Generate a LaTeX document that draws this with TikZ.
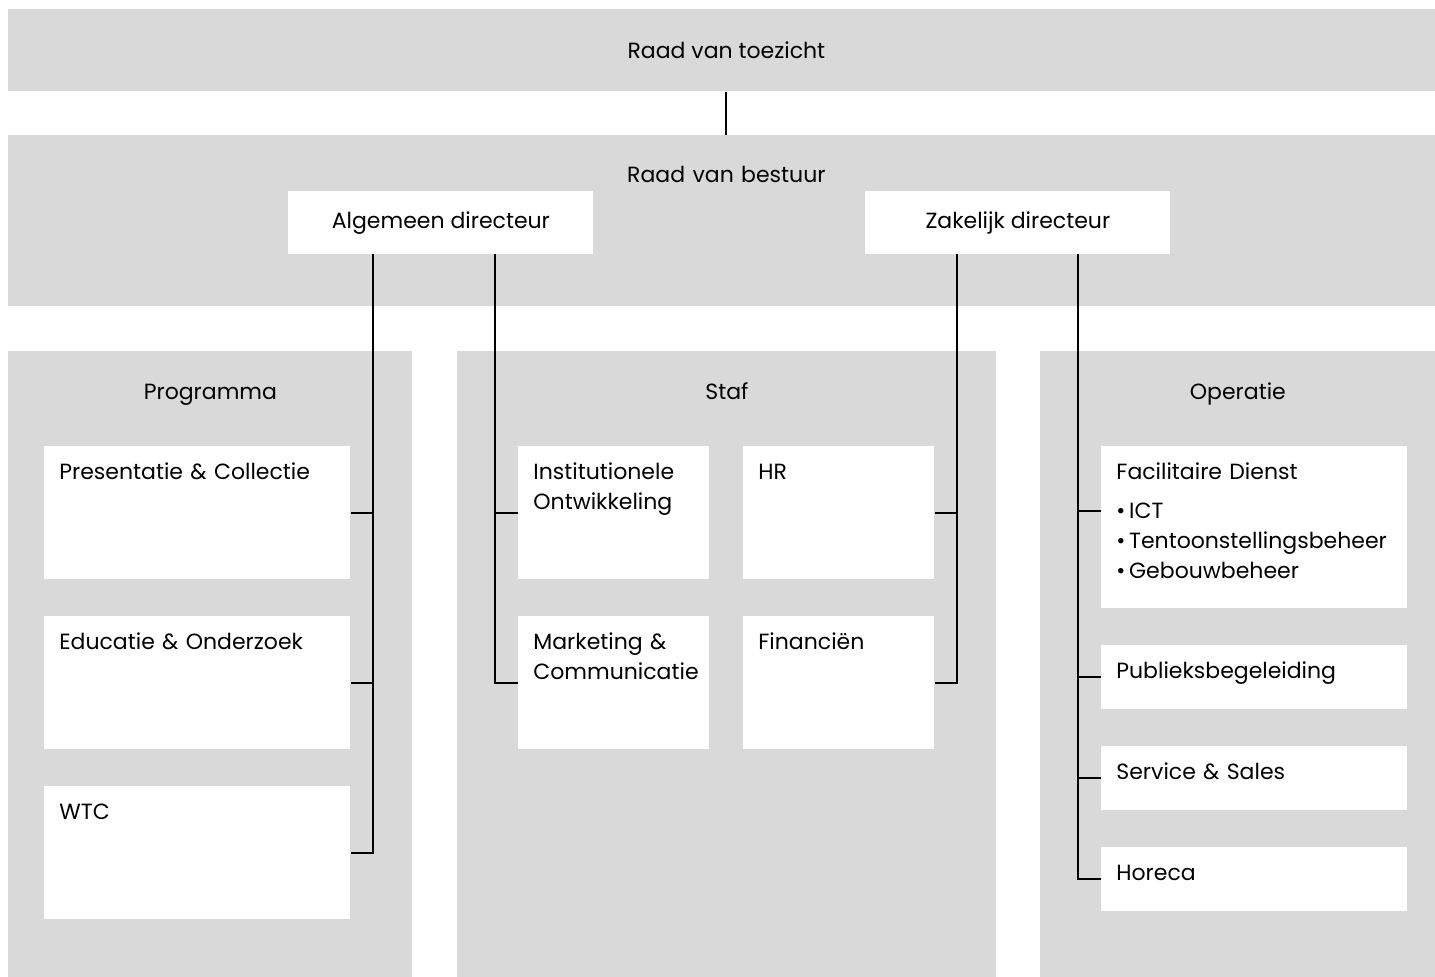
\documentclass[tikz,border=0pt]{standalone}
\usepackage{fontspec}
\setmainfont{Poppins}
\definecolor{bandgray}{HTML}{D9D9D9}
\tikzset{
    band/.style={fill=bandgray, inner sep=0pt, anchor=north west, align=center},
    unit/.style={fill=white, inner xsep=7.5pt, inner ysep=0pt, anchor=north west, align=left, text height=16.5pt},
    head/.style={fill=white, inner sep=0pt, anchor=north west, minimum width=152.5pt, minimum height=31.5pt},
    conn/.style={line width=1pt, black},
}
\begin{document}
\begin{tikzpicture}[x=0.5pt, y=-0.5pt, every node/.style={font=\fontsize{11}{15}\selectfont}]
    \useasboundingbox (0,0) rectangle (1435,977);

    % Draw the boards
    \node[band, minimum width=718pt, minimum height=41pt] (rvt) at (8,9) {Raad van toezicht};
    \node[band, text width=718pt, text height=23.5pt, text depth=62pt] (rvb) at (8,135) {Raad van bestuur};
    \node[head] (ad) at (288,191) {Algemeen directeur};
    \node[head] (zd) at (865,191) {Zakelijk directeur};

    % Draw the departments
    \node[band, text width=202pt, text height=24pt, text depth=289pt] (prog) at (8,351) {Programma};
    \node[band, text width=269.5pt, text height=24pt, text depth=289pt] (staf) at (457,351) {Staf};
    \node[band, text width=197.5pt, text height=24pt, text depth=289pt] (oper) at (1040,351) {Operatie};

    % Programma
    \node[unit, text width=138pt, text depth=50pt] (pc) at (44,446) {Presentatie \& Collectie};
    \node[unit, text width=138pt, text depth=50pt] (eo) at (44,616) {Educatie \& Onderzoek};
    \node[unit, text width=138pt, text depth=50pt] (wtc) at (44,786) {WTC};

    % Staf
    \node[unit, text width=80.5pt, text depth=50pt] (io) at (518,446) {Institutionele\\Ontwikkeling};
    \node[unit, text width=80.5pt, text depth=50pt] (mc) at (518,616) {Marketing \&\\Communicatie};
    \node[unit, text width=80.5pt, text depth=50pt] (hr) at (743,446) {HR};
    \node[unit, text width=80.5pt, text depth=50pt] (fin) at (743,616) {Financiën};

    % Operatie
    \node[unit, text width=138pt, text depth=64.5pt] (fd) at (1101,446) {Facilitaire Dienst\\[4.5pt]
        \textbullet\,ICT\\\textbullet\,Tentoonstellingsbeheer\\\textbullet\,Gebouwbeheer};
    \node[unit, text width=138pt, text depth=15.5pt] (pb) at (1101,645) {Publieksbegeleiding};
    \node[unit, text width=138pt, text depth=15.5pt] (ss) at (1101,746) {Service \& Sales};
    \node[unit, text width=138pt, text depth=15.5pt] (hor) at (1101,847) {Horeca};

    % Lines
    \draw[conn] (rvt) -- (rvb);
    \coordinate (t1) at (373,254);
    \coordinate (t2) at (495,254);
    \coordinate (t3) at (957,254);
    \coordinate (t4) at (1078,254);

    \draw[conn] (t1) |- (wtc.east);
    \foreach \u in {pc,eo} {
        \draw[conn] (\u.east) -- (\u.east -| t1);
    }
    \draw[conn] (t2) |- (mc.west);
    \draw[conn] (io.west) -- (io.west -| t2);
    \draw[conn] (t3) |- (fin.east);
    \draw[conn] (hr.east) -- (hr.east -| t3);
    \draw[conn] (t4) |- (hor.west);
    \draw[conn] ([shift={(0,65)}]fd.north west) -- ([shift={(0,65)}]fd.north west -| t4);
    \foreach \u in {pb,ss} {
        \draw[conn] (\u.west) -- (\u.west -| t4);
    }
\end{tikzpicture}
\end{document}
